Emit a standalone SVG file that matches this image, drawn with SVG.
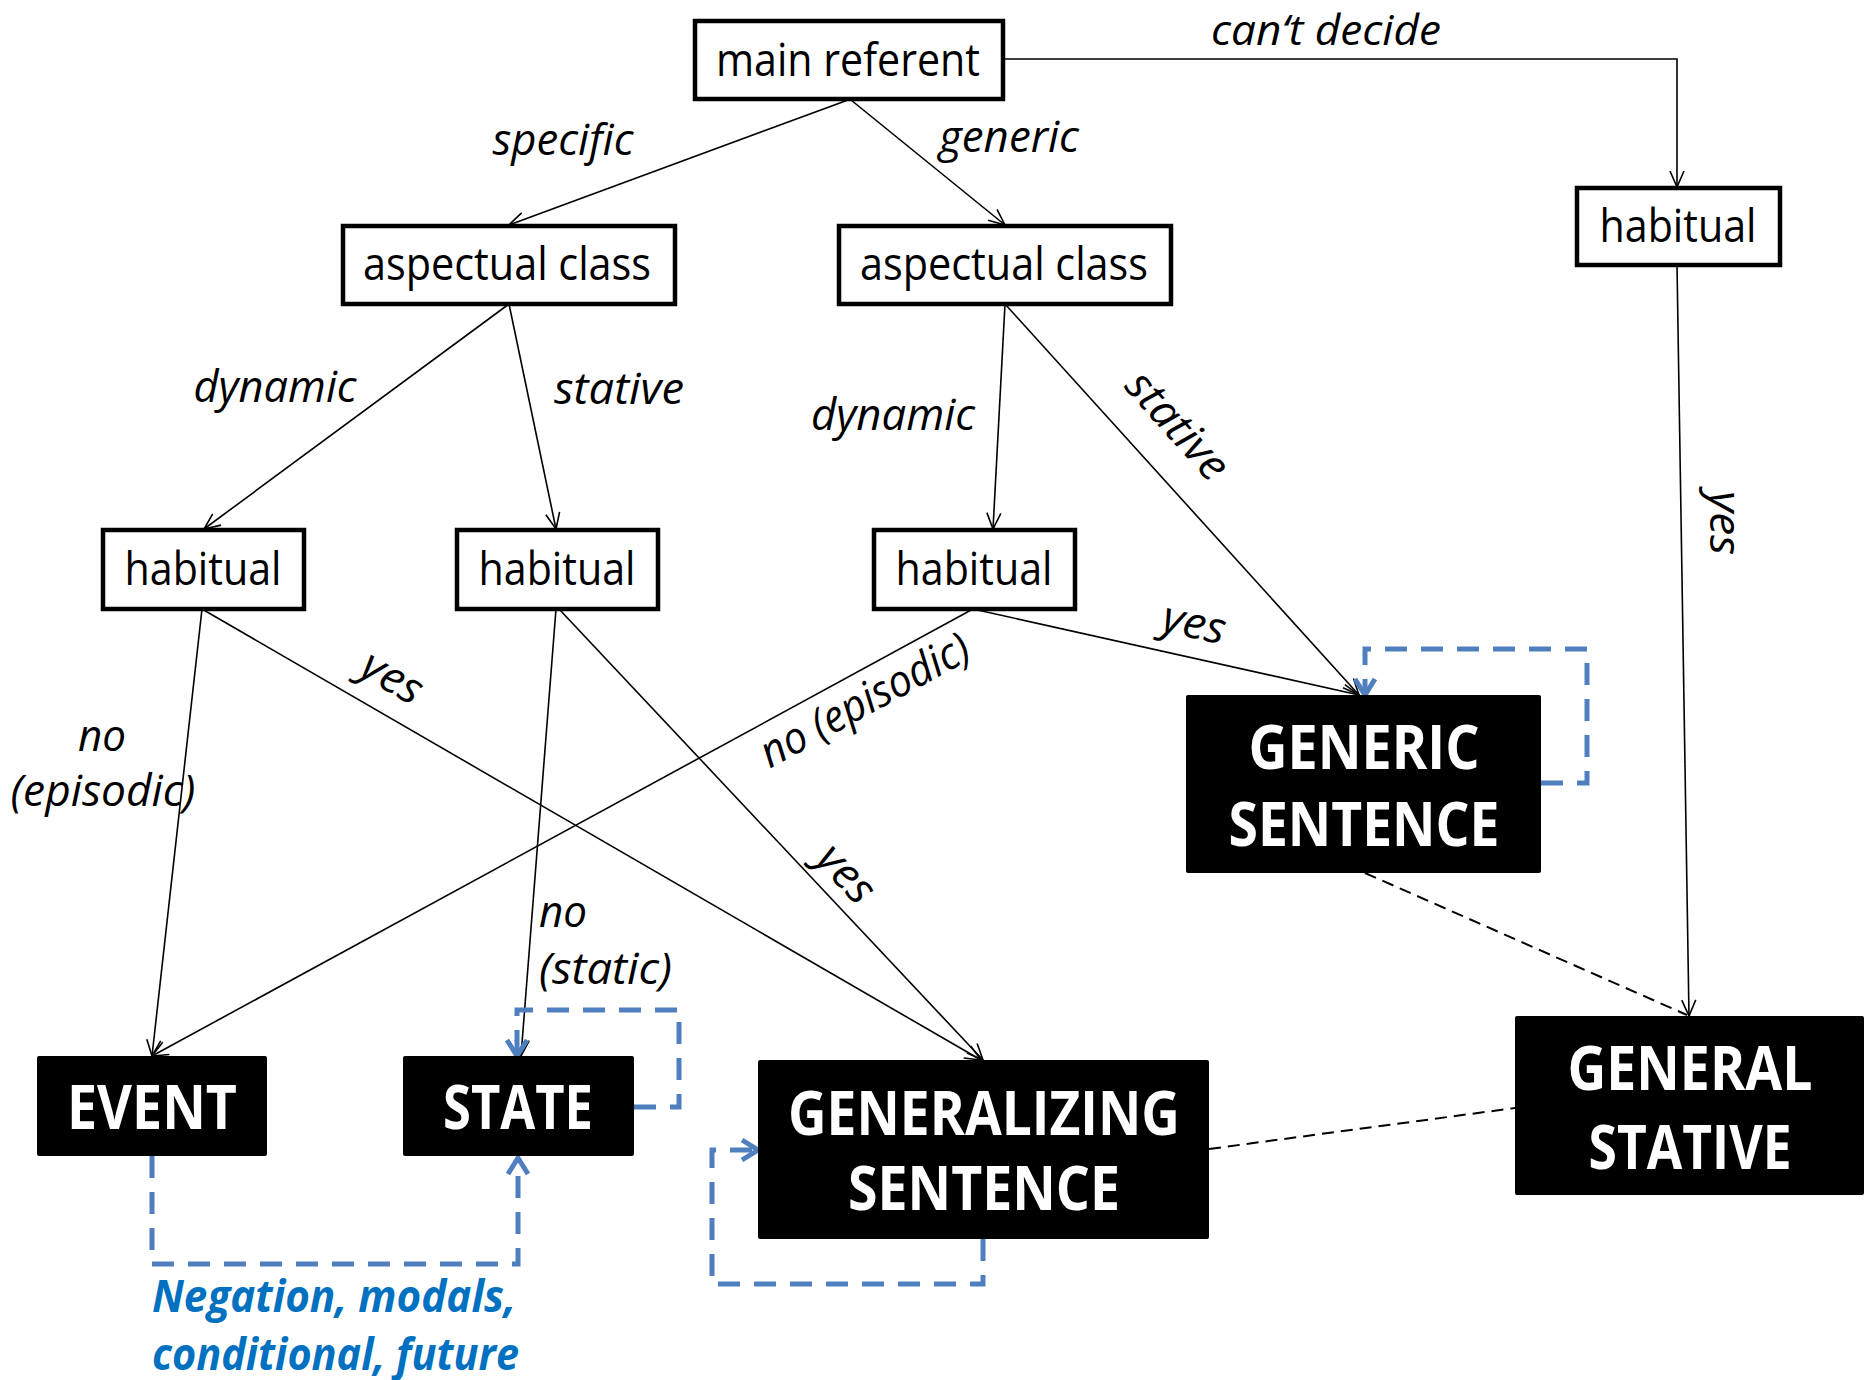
<svg xmlns="http://www.w3.org/2000/svg" width="1864" height="1380" viewBox="0 0 1864 1380">
<style>
.box{fill:#fff;stroke:#000;stroke-width:4.5}
.blk{fill:#000;stroke:none}
.t{font-family:"Open Sans","Noto Sans",sans-serif;font-size:46px;fill:#000;text-anchor:middle}
.b{font-family:"Open Sans","Noto Sans",sans-serif;font-size:60px;font-weight:bold;fill:#fff;text-anchor:middle}
.i{font-family:"Open Sans","Noto Sans",sans-serif;font-size:44px;font-style:italic;fill:#000;text-anchor:middle}
.n{font-family:"Open Sans","Noto Sans",sans-serif;font-size:44px;font-weight:bold;font-style:italic;fill:#0070C0}
.c{fill:none;stroke:#000;stroke-width:1.6}
.d{fill:none;stroke:#000;stroke-width:2;stroke-dasharray:12,7}
.bl{fill:none;stroke:#4F7FBF;stroke-width:5;stroke-dasharray:22,14}
</style>
<defs>
<marker id="a" markerUnits="userSpaceOnUse" markerWidth="20" markerHeight="16" refX="16" refY="8" orient="auto" overflow="visible">
<path d="M0,1 L16,8 L0,15" fill="none" stroke="#000" stroke-width="1.6"/>
</marker>
<marker id="ab" markerUnits="userSpaceOnUse" markerWidth="20" markerHeight="24" refX="18" refY="12" orient="auto" overflow="visible">
<path d="M2,2 L18,12 L2,22" fill="none" stroke="#4F7FBF" stroke-width="5"/>
</marker>
</defs>
<g id="connectors">
<line class="c" x1="848" y1="100" x2="509" y2="225" marker-end="url(#a)"/>
<line class="c" x1="851" y1="100" x2="1005" y2="225" marker-end="url(#a)"/>
<polyline class="c" points="1003,59 1677,59 1677,187" marker-end="url(#a)"/>
<line class="c" x1="509" y1="304" x2="204" y2="529" marker-end="url(#a)"/>
<line class="c" x1="509" y1="304" x2="556" y2="529" marker-end="url(#a)"/>
<line class="c" x1="1005" y1="304" x2="993" y2="529" marker-end="url(#a)"/>
<line class="c" x1="1005" y1="304" x2="1359" y2="695" marker-end="url(#a)"/>
<line class="c" x1="1677" y1="265" x2="1689" y2="1016" marker-end="url(#a)"/>
<line class="c" x1="202" y1="609" x2="152" y2="1056" marker-end="url(#a)"/>
<line class="c" x1="202" y1="609" x2="981" y2="1060" marker-end="url(#a)"/>
<line class="c" x1="556" y1="609" x2="521" y2="1056" marker-end="url(#a)"/>
<line class="c" x1="559" y1="609" x2="983" y2="1060" marker-end="url(#a)"/>
<line class="c" x1="973" y1="609" x2="152" y2="1056" marker-end="url(#a)"/>
<line class="c" x1="973" y1="609" x2="1359" y2="695" marker-end="url(#a)"/>
<line class="d" x1="1365" y1="873" x2="1687" y2="1015"/>
<line class="d" x1="1209" y1="1149" x2="1515" y2="1108"/>
<polyline class="bl" points="1541,783 1587,783 1587,649 1365,649 1365,695" marker-end="url(#ab)"/>
<polyline class="bl" points="634,1107 679,1107 679,1010 517,1010 517,1056" marker-end="url(#ab)"/>
<polyline class="bl" points="152,1156 152,1264 518,1264 518,1158" marker-end="url(#ab)"/>
<polyline class="bl" points="983,1239 983,1284 712,1284 712,1150 758,1150" marker-end="url(#ab)"/>
</g>
<g id="labels">
<text class="i" x="1326" y="45" style="font-size:42px" textLength="230" lengthAdjust="spacingAndGlyphs">can‘t decide</text>
<text class="i" x="563" y="155" textLength="141" lengthAdjust="spacingAndGlyphs">specific</text>
<text class="i" x="1009" y="152" textLength="140" lengthAdjust="spacingAndGlyphs">generic</text>
<text class="i" x="275" y="402" textLength="163" lengthAdjust="spacingAndGlyphs">dynamic</text>
<text class="i" x="619" y="404" textLength="130" lengthAdjust="spacingAndGlyphs">stative</text>
<text class="i" x="893" y="430" textLength="164" lengthAdjust="spacingAndGlyphs">dynamic</text>
<text class="i" transform="translate(1177,426) rotate(48)" x="0" y="14" textLength="130" lengthAdjust="spacingAndGlyphs">stative</text>
<text class="i" transform="translate(1724,523) rotate(90)" x="0" y="14" textLength="64" lengthAdjust="spacingAndGlyphs">yes</text>
<text class="i" transform="translate(1194,624) rotate(13)" x="0" y="14" textLength="64" lengthAdjust="spacingAndGlyphs">yes</text>
<text class="i" transform="translate(865,701) rotate(-28.6)" x="0" y="14" textLength="232" lengthAdjust="spacingAndGlyphs">no (episodic)</text>
<text class="i" transform="translate(392,678) rotate(30)" x="0" y="14" textLength="64" lengthAdjust="spacingAndGlyphs">yes</text>
<text class="i" transform="translate(846,874) rotate(47)" x="0" y="14" textLength="64" lengthAdjust="spacingAndGlyphs">yes</text>
<text class="i" x="102" y="751" textLength="48" lengthAdjust="spacingAndGlyphs">no</text>
<text class="i" x="103" y="806" textLength="185" lengthAdjust="spacingAndGlyphs">(episodic)</text>
<text class="i" x="539" y="927" style="text-anchor:start" textLength="48" lengthAdjust="spacingAndGlyphs">no</text>
<text class="i" x="539" y="984" style="text-anchor:start" textLength="133" lengthAdjust="spacingAndGlyphs">(static)</text>
<text class="n" x="152" y="1312" textLength="364" lengthAdjust="spacingAndGlyphs">Negation, modals,</text>
<text class="n" x="152" y="1370" textLength="367" lengthAdjust="spacingAndGlyphs">conditional, future</text>
</g>
<g id="main-referent"><rect class="box" x="695" y="21" width="308" height="78"/><text class="t" x="848" y="76" textLength="264" lengthAdjust="spacingAndGlyphs">main referent</text></g>
<g id="aspectual-left"><rect class="box" x="343" y="226" width="332" height="78"/><text class="t" x="507" y="280" textLength="288" lengthAdjust="spacingAndGlyphs">aspectual class</text></g>
<g id="aspectual-right"><rect class="box" x="839" y="226" width="332" height="78"/><text class="t" x="1004" y="280" textLength="288" lengthAdjust="spacingAndGlyphs">aspectual class</text></g>
<g id="habitual-top"><rect class="box" x="1577" y="188" width="203" height="77"/><text class="t" x="1678" y="242" textLength="157" lengthAdjust="spacingAndGlyphs">habitual</text></g>
<g id="habitual-1"><rect class="box" x="103" y="530" width="201" height="79"/><text class="t" x="203" y="585" textLength="157" lengthAdjust="spacingAndGlyphs">habitual</text></g>
<g id="habitual-2"><rect class="box" x="457" y="530" width="201" height="79"/><text class="t" x="557" y="585" textLength="157" lengthAdjust="spacingAndGlyphs">habitual</text></g>
<g id="habitual-3"><rect class="box" x="874" y="530" width="201" height="79"/><text class="t" x="974" y="585" textLength="157" lengthAdjust="spacingAndGlyphs">habitual</text></g>
<g id="generic-sentence"><rect class="blk" x="1186" y="695" width="355" height="178" rx="2"/><text class="b" x="1364" y="769" textLength="231" lengthAdjust="spacingAndGlyphs">GENERIC</text><text class="b" x="1364" y="846" textLength="271" lengthAdjust="spacingAndGlyphs">SENTENCE</text></g>
<g id="event"><rect class="blk" x="37" y="1056" width="230" height="100" rx="2"/><text class="b" x="152" y="1129" textLength="170" lengthAdjust="spacingAndGlyphs">EVENT</text></g>
<g id="state"><rect class="blk" x="403" y="1056" width="231" height="100" rx="2"/><text class="b" x="518" y="1129" textLength="150" lengthAdjust="spacingAndGlyphs">STATE</text></g>
<g id="generalizing-sentence"><rect class="blk" x="758" y="1060" width="451" height="179" rx="2"/><text class="b" x="984" y="1135" textLength="392" lengthAdjust="spacingAndGlyphs">GENERALIZING</text><text class="b" x="984" y="1210" textLength="272" lengthAdjust="spacingAndGlyphs">SENTENCE</text></g>
<g id="general-stative"><rect class="blk" x="1515" y="1016" width="349" height="179" rx="2"/><text class="b" x="1690" y="1090" textLength="245" lengthAdjust="spacingAndGlyphs">GENERAL</text><text class="b" x="1690" y="1169" textLength="203" lengthAdjust="spacingAndGlyphs">STATIVE</text></g>
</svg>
